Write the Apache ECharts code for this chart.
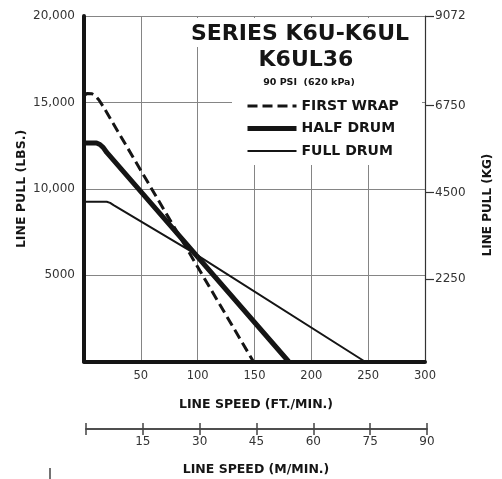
<!DOCTYPE html>
<html>
<head>
<meta charset="utf-8">
<script src="https://cdn.jsdelivr.net/npm/echarts@6/dist/echarts.min.js"></script>
<style>
  html, body { margin: 0; background: #fff; }
  #chart { width: 502px; height: 479px; }
</style>
</head>
<body>
<div id="chart"></div>
<script>
// K6U-K6UL line pull vs line speed
const seriesNames = ['FIRST WRAP', 'HALF DRUM', 'FULL DRUM'];
// [ft/min, lbs]
const firstWrap = [[0, 15400], [3, 15520], [7, 15500], [10, 15380], [13, 15150], [17, 14750], [55, 10500], [149, 0]];
const halfDrum = [[0, 12650], [11, 12650], [14, 12560], [17, 12380], [20, 12100], [180, 0]];
const fullDrum = [[0, 9250], [20, 9250], [23, 9180], [26, 9050], [95, 6350], [247, 0]];
// right axis (kg) and lower speed scale (m/min)
const kgTicks = [2250, 4500, 6750, 9072];
const mTicks = [0, 15, 30, 45, 60, 75, 90];

const FONT = 'DejaVu Sans';
const ink = '#151515';
const grey = '#333';
const lineWidths = [3, 5, 2];

const chart = echarts.init(document.getElementById('chart'));

function lbsLabel(v) {
  if (v === 0) return '';
  if (v >= 10000) return (v / 1000) + ',000';
  return String(v);
}

chart.setOption({
  animation: false,
  backgroundColor: '#fff',
  color: [ink, ink, ink],
  grid: [
    { left: 84, right: 77, top: 16, bottom: 117.5 },
    { left: 86, right: 75, top: 429, height: 0 },
  ],
  xAxis: [
    {
      gridIndex: 0, type: 'value', min: 0, max: 300, interval: 50,
      axisLine: { onZero: false, lineStyle: { color: ink, width: 4 } },
      axisTick: { show: false },
      axisLabel: { margin: 9, fontFamily: FONT, fontSize: 11.5, color: grey, formatter: v => (v === 0 ? '' : v) },
      splitLine: { show: true, lineStyle: { color: '#858585', width: 1 } },
    },
    {
      gridIndex: 1, type: 'value', position: 'bottom', min: mTicks[0], max: mTicks[mTicks.length - 1], interval: 15,
      axisLine: { onZero: false, lineStyle: { color: '#444', width: 1.5 } },
      axisTick: { inside: true, length: 6, lineStyle: { color: '#444', width: 1.5 } },
      axisLabel: { show: false },
      splitLine: { show: false },
    },
    {
      gridIndex: 1, type: 'value', position: 'bottom', min: mTicks[0], max: mTicks[mTicks.length - 1], interval: 15,
      axisLine: { onZero: false, lineStyle: { color: '#444', width: 1.5 } },
      axisTick: { length: 6, lineStyle: { color: '#444', width: 1.5 } },
      axisLabel: { margin: 7, fontFamily: FONT, fontSize: 12, color: grey, formatter: v => (v === 0 ? '' : v) },
      splitLine: { show: false },
    },
  ],
  yAxis: [
    {
      gridIndex: 0, type: 'value', min: 0, max: 20000, interval: 5000,
      axisLine: { show: true, onZero: false, lineStyle: { color: ink, width: 4 } },
      axisTick: { show: false },
      axisLabel: { margin: 9, fontFamily: FONT, fontSize: 12, color: grey, formatter: lbsLabel },
      splitLine: { show: true, lineStyle: { color: '#858585', width: 1 } },
    },
    {
      gridIndex: 0, type: 'value', position: 'right', min: 120, max: 9072,
      axisLine: { show: true, onZero: false, lineStyle: { color: grey, width: 1.2 } },
      axisTick: { show: true, length: 9, customValues: kgTicks, lineStyle: { color: grey, width: 1.2 } },
      axisLabel: { margin: 10, fontFamily: FONT, fontSize: 12, color: grey, customValues: kgTicks, formatter: v => String(v) },
      splitLine: { show: false },
    },
    { gridIndex: 1, type: 'value', show: false, min: 0, max: 1 },
  ],
  legend: {
    data: seriesNames.map((name, i) => ({ name, lineStyle: { width: lineWidths[i] } })),
    orient: 'vertical',
    left: 240, top: 94,
    itemWidth: 49, itemHeight: 14, itemGap: 8.5,
    selectedMode: false,
    itemStyle: { color: 'rgba(0,0,0,0)', borderWidth: 0, opacity: 0 },
    textStyle: { fontFamily: FONT, fontWeight: 'bold', fontSize: 14, color: ink },
    z: 6,
  },
  graphic: [
    // white panel behind the title and key
    { type: 'rect', z: 3, shape: { x: 232, y: 18, width: 190, height: 147 }, style: { fill: '#fff' } },
    { type: 'rect', z: 3, shape: { x: 190, y: 18, width: 44, height: 29 }, style: { fill: '#fff' } },
    { type: 'text', z: 6, x: 300, y: 34, style: { text: 'SERIES K6U-K6UL', font: 'bold 22px "DejaVu Sans"', fill: ink, textAlign: 'center', textVerticalAlign: 'middle' } },
    { type: 'text', z: 6, x: 306, y: 60, style: { text: 'K6UL36', font: 'bold 22px "DejaVu Sans"', fill: ink, textAlign: 'center', textVerticalAlign: 'middle' } },
    { type: 'text', z: 6, x: 309, y: 83, style: { text: '90 PSI  (620 kPa)', font: 'bold 9.5px "DejaVu Sans"', fill: ink, textAlign: 'center', textVerticalAlign: 'middle' } },
    { type: 'text', z: 6, x: 256, y: 405, style: { text: 'LINE SPEED (FT./MIN.)', font: 'bold 12.5px "DejaVu Sans"', fill: ink, textAlign: 'center', textVerticalAlign: 'middle' } },
    { type: 'text', z: 6, x: 256, y: 470, style: { text: 'LINE SPEED (M/MIN.)', font: 'bold 12.5px "DejaVu Sans"', fill: ink, textAlign: 'center', textVerticalAlign: 'middle' } },
    { type: 'text', z: 6, x: 21.5, y: 189, rotation: Math.PI / 2, style: { text: 'LINE PULL (LBS.)', font: 'bold 12.5px "DejaVu Sans"', fill: ink, textAlign: 'center', textVerticalAlign: 'middle' } },
    { type: 'text', z: 6, x: 487.5, y: 205, rotation: Math.PI / 2, style: { text: 'LINE PULL (KG)', font: 'bold 12px "DejaVu Sans"', fill: ink, textAlign: 'center', textVerticalAlign: 'middle' } },
    // stray scan mark bottom left
    { type: 'line', z: 6, shape: { x1: 50, y1: 468, x2: 50, y2: 479 }, style: { stroke: '#444', lineWidth: 1.5 } },
  ],
  series: [
    {
      name: seriesNames[0], type: 'line', data: firstWrap, symbol: 'none', z: 5,
      lineStyle: { color: ink, width: lineWidths[0], type: [10, 5], join: 'round' },
    },
    {
      name: seriesNames[1], type: 'line', data: halfDrum, symbol: 'none', z: 5,
      lineStyle: { color: ink, width: lineWidths[1], join: 'round' },
    },
    {
      name: seriesNames[2], type: 'line', data: fullDrum, symbol: 'none', z: 5,
      lineStyle: { color: ink, width: lineWidths[2], join: 'round' },
    },
  ],
});
</script>
</body>
</html>
